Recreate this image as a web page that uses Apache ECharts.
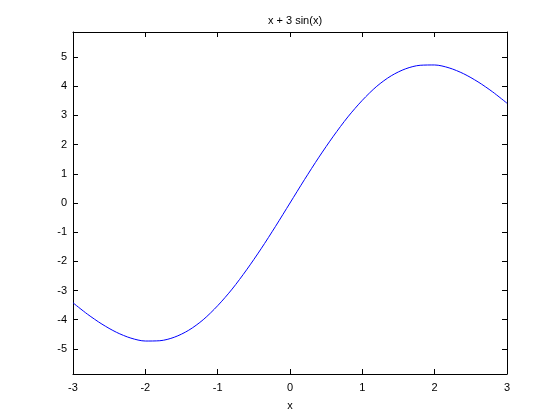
<!DOCTYPE html>
<html>
<head>
<meta charset="utf-8">
<script src="https://cdn.jsdelivr.net/npm/echarts@6/dist/echarts.min.js"></script>
<style>html,body{margin:0;padding:0;background:#fff;}#c{width:560px;height:420px;}</style>
</head>
<body>
<div id="c"></div>
<script>
var xValues = [-3, -2.8, -2.6, -2.4, -2.2, -2, -1.8, -1.6, -1.4, -1.2, -1, -0.8, -0.6, -0.4, -0.2, 0,
               0.2, 0.4, 0.6, 0.8, 1, 1.2, 1.4, 1.6, 1.8, 2, 2.2, 2.4, 2.6, 2.8, 3];
var yValues = [-3.42, -3.81, -4.15, -4.43, -4.63, -4.73, -4.72, -4.60, -4.36, -4.00, -3.52, -2.95, -2.29, -1.57, -0.80, 0,
               0.80, 1.57, 2.29, 2.95, 3.52, 4.00, 4.36, 4.60, 4.72, 4.73, 4.63, 4.43, 4.15, 3.81, 3.42];
var xTicks = [-3, -2, -1, 0, 1, 2, 3];
var yTicks = [-5, -4, -3, -2, -1, 0, 1, 2, 3, 4, 5];
var titleText = 'x + 3 sin(x)';
var xLabel = 'x';

var font = 'Liberation Sans, Arial, sans-serif';
var chart = echarts.init(document.getElementById('c'));
var axisLine = {show: true, onZero: false, lineStyle: {color: '#000', width: 1}};
var tick = {show: true, inside: true, length: 5, lineStyle: {color: '#000', width: 1}};
chart.setOption({
  animation: false,
  backgroundColor: '#fff',
  title: {
    text: titleText, left: 290, top: 10, textAlign: 'center',
    textStyle: {fontFamily: font, fontSize: 11, fontWeight: 'normal', color: '#000'}
  },
  grid: {left: 73, right: 53, top: 32, bottom: 46, containLabel: false},
  xAxis: [{
    type: 'value', min: -3, max: 3, interval: 1, position: 'bottom',
    name: xLabel, nameLocation: 'middle', nameGap: 26,
    nameTextStyle: {fontFamily: font, fontSize: 11, color: '#000'},
    axisLine: axisLine,
    axisTick: Object.assign({}, tick, {customValues: xTicks}),
    axisLabel: {customValues: xTicks, margin: 8, fontFamily: font, fontSize: 11, color: '#000'},
    splitLine: {show: false}
  }, {
    type: 'value', min: -3, max: 3, interval: 1, position: 'top',
    axisLine: axisLine,
    axisTick: Object.assign({}, tick, {customValues: xTicks}),
    axisLabel: {show: false},
    splitLine: {show: false}
  }],
  yAxis: [{
    type: 'value', min: -5.86, max: 5.86, position: 'left',
    axisLine: axisLine,
    axisTick: Object.assign({}, tick, {customValues: yTicks}),
    axisLabel: {customValues: yTicks, margin: 6, fontFamily: font, fontSize: 11, color: '#000'},
    splitLine: {show: false}
  }, {
    type: 'value', min: -5.86, max: 5.86, position: 'right',
    axisLine: axisLine,
    axisTick: Object.assign({}, tick, {customValues: yTicks}),
    axisLabel: {show: false},
    splitLine: {show: false}
  }],
  series: [{
    type: 'line',
    data: xValues.map(function (x, i) { return [x, yValues[i]]; }),
    xAxisIndex: 0, yAxisIndex: 0,
    smooth: 0.3,
    showSymbol: false,
    lineStyle: {color: '#0000ff', width: 1},
    itemStyle: {color: '#0000ff'}
  }]
});
</script>
</body>
</html>
